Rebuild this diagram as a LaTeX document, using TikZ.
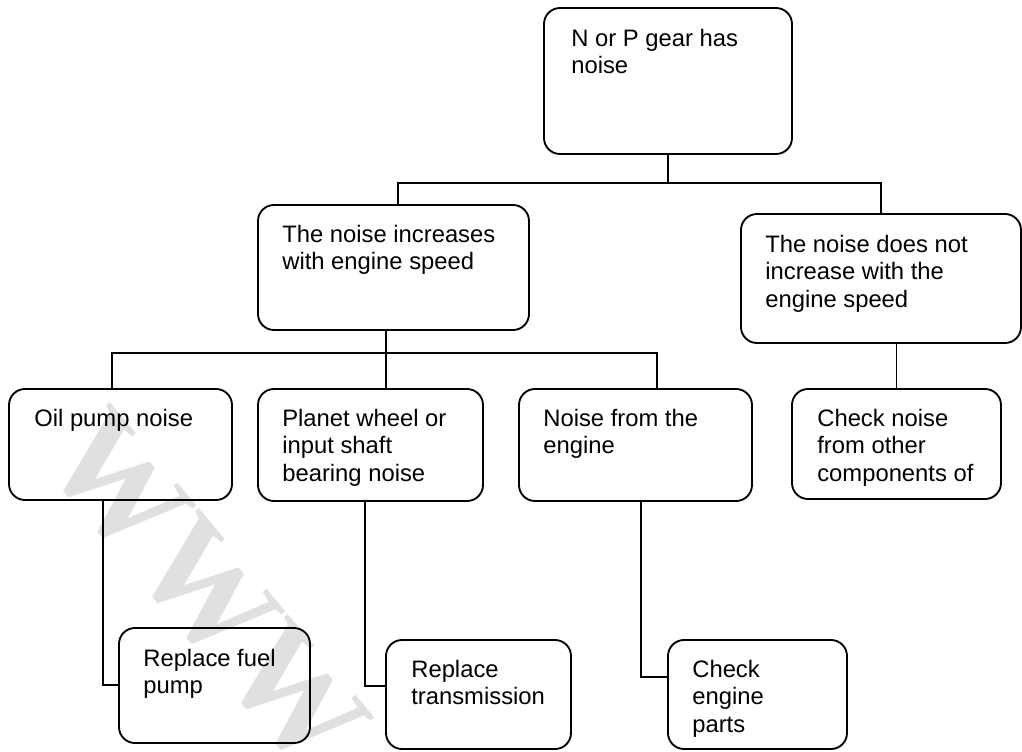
\documentclass[tikz,border=0pt]{standalone}
\usepackage{fontspec}
\setmainfont{Liberation Sans}
\newfontfamily\wmfont{Liberation Serif}
\usetikzlibrary{calc}

\tikzset{
  box/.style={draw=black, line width=1.4pt, rounded corners=12pt, inner sep=0pt},
  txt/.style={anchor=base west, inner sep=0pt, text=black},
  link/.style={draw=black, line width=1.4pt},
  mark wm/.style={text=black!12, inner sep=0pt}
}
\newcommand{\boxtext}[1]{\fontsize{17.85}{20.6}\selectfont\begin{tabular}[t]{@{}l@{}}#1\end{tabular}}

\begin{document}
\begin{tikzpicture}[x=0.75pt, y=-0.75pt]
  \useasboundingbox (0,0) rectangle (1022,751);

  % diagonal watermark behind everything
  \node[mark wm, rotate=-50] (wm) at (207,590) {\wmfont\bfseries\fontsize{104}{104}\selectfont WWW};

  % boxes
  \node[box, minimum width=186pt,    minimum height=109.5pt] (top)    at (668,81)     {};
  \node[box, minimum width=203.25pt, minimum height=93.75pt] (inc)    at (393.5,267.5) {};
  \node[box, minimum width=210pt,    minimum height=96.75pt] (notinc) at (881,278.5)  {};
  \node[box, minimum width=167.25pt, minimum height=83.25pt] (oil)    at (120.5,444.5) {};
  \node[box, minimum width=168.75pt, minimum height=84pt]    (planet) at (370.5,445)  {};
  \node[box, minimum width=174.75pt, minimum height=84pt]    (engine) at (635.5,445)  {};
  \node[box, minimum width=156.75pt, minimum height=82.5pt]  (chk)    at (896.5,444)  {};
  \node[box, minimum width=143.25pt, minimum height=86.25pt] (fuel)   at (214.5,685.5) {};
  \node[box, minimum width=138.75pt, minimum height=81.75pt] (trans)  at (478.5,694.5) {};
  \node[box, minimum width=134.25pt, minimum height=81.75pt] (parts)  at (757.5,694.5) {};

  % box texts
  \node[txt] (ttop)    at ($(top.north west)+(28,39)$)    {\boxtext{N or P gear has\\noise}};
  \node[txt] (tinc)    at ($(inc.north west)+(25,38)$)    {\boxtext{The noise increases\\with engine speed}};
  \node[txt] (tnotinc) at ($(notinc.north west)+(25,39)$) {\boxtext{The noise does not\\increase with the\\engine speed}};
  \node[txt] (toil)    at ($(oil.north west)+(26,38)$)    {\boxtext{Oil pump noise}};
  \node[txt] (tplanet) at ($(planet.north west)+(25,38)$) {\boxtext{Planet wheel or\\input shaft\\bearing noise}};
  \node[txt] (tengine) at ($(engine.north west)+(25,38)$) {\boxtext{Noise from the\\engine}};
  \node[txt] (tchk)    at ($(chk.north west)+(26,38)$)    {\boxtext{Check noise\\from other\\components of}};
  \node[txt] (tfuel)   at ($(fuel.north west)+(25,39)$)   {\boxtext{Replace fuel\\pump}};
  \node[txt] (ttrans)  at ($(trans.north west)+(26,38)$)  {\boxtext{Replace\\transmission}};
  \node[txt] (tparts)  at ($(parts.north west)+(25,38)$)  {\boxtext{Check\\engine\\parts}};

  % junction points of the connectors
  \coordinate (b1) at (668,183);
  \coordinate (bl) at (112,353);
  \coordinate (bm) at (386,353);
  \coordinate (br) at (657,353);
  \coordinate (e1) at (103,685);
  \coordinate (e2) at (365,686);
  \coordinate (e3) at (641,677);

  % first level
  \draw[link] (top.south) -- (b1);
  \draw[link] (inc.north -| 398,0) |- (b1) -| (notinc.north);

  % second level
  \draw[link] (inc.south -| bm) -- (planet.north -| bm);
  \draw[link] (oil.north -| bl) -- (bl) -- (br) -- (engine.north -| br);
  \draw[link] (notinc.south -| chk.north) -- (chk.north);

  % actions
  \draw[link] (oil.south -| e1) -- (e1) -- (e1 -| fuel.west);
  \draw[link] (planet.south -| e2) -- (e2) -- (e2 -| trans.west);
  \draw[link] (engine.south -| e3) -- (e3) -- (e3 -| parts.west);
\end{tikzpicture}
\end{document}
